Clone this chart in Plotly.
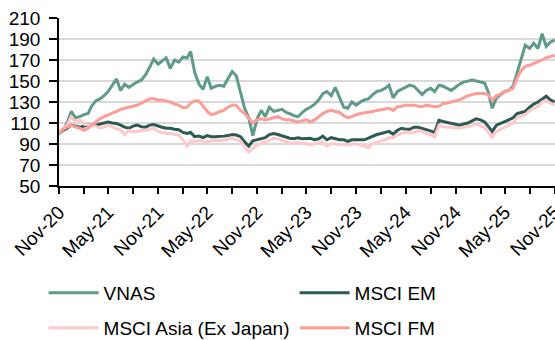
import plotly.graph_objects as go

# Half-month sample dates, Nov-2020 .. Nov-2025
dates = []
for y in range(2020, 2026):
    for mo in range(1, 13):
        if (y == 2020 and mo < 11):
            continue
        for d in (1, 16):
            if y == 2025 and (mo > 11 or (mo == 11 and d == 16)):
                continue
            dates.append(f"{y}-{mo:02d}-{d:02d}")

tick_dates = ["2020-11-01", "2021-05-01", "2021-11-01", "2022-05-01", "2022-11-01", "2023-05-01",
              "2023-11-01", "2024-05-01", "2024-11-01", "2025-05-01", "2025-11-01"]
tick_text = ["Nov-20", "May-21", "Nov-21", "May-22", "Nov-22", "May-23",
             "Nov-23", "May-24", "Nov-24", "May-25", "Nov-25"]

vnas = [100, 104, 110, 121, 115, 116, 118, 119, 126, 131, 133, 136, 140, 146, 152, 141, 147, 144, 147, 149,
        151, 156, 163, 171, 166, 169, 172, 162, 170, 168, 173, 172, 178, 158, 147, 142, 154, 143, 145, 146,
        145, 152, 159, 155, 138, 124, 115, 98, 114, 122, 116, 125, 121, 122, 123, 120, 119, 117, 116, 120,
        123, 125, 128, 132, 138, 140, 136, 144, 135, 125, 124, 130, 127, 130, 132, 133, 137, 140, 141, 143,
        146, 134, 140, 142, 144, 146, 145, 141, 137, 141, 143, 140, 146, 145, 143, 141, 144, 147, 149, 150,
        151, 150, 149, 148, 140, 124, 134, 137, 140, 141, 145, 158, 170, 184, 181, 186, 181, 195, 183, 187,
        189]

msci_em = [100, 103, 105, 108, 107, 106, 107, 108, 108, 108, 109, 110, 111, 110, 109.5, 108, 106, 105, 107, 108,
           106.5, 106, 108, 108.5, 107, 106, 105, 105, 104, 103.5, 101, 100, 101, 97, 97.5, 96, 98, 97, 97, 97,
           97.5, 98, 99, 98.5, 97, 92, 88, 93, 94, 95, 96, 99, 100, 99, 97.5, 96, 95.5, 95, 96, 95,
           95, 95.5, 94, 95, 97.5, 94, 96, 95, 94, 94, 92.5, 94, 94, 93.5, 94, 95.5, 97.5, 99, 100, 101,
           102, 99.5, 103, 105, 104, 104, 106, 106, 105, 104, 102.5, 101, 112.5, 111.5, 110.5, 109.5, 108.5, 108, 109, 110,
           112, 114, 113, 111, 107, 102, 108, 109.5, 111, 113, 115, 119, 120, 121, 125, 128, 130, 133, 135.5, 132,
           130]

msci_asia = [100, 105, 108, 116, 111, 113, 109, 108, 108, 107, 105, 106, 108, 106, 104.5, 103.5, 99, 103, 102, 102,
             103, 103, 104, 105, 102, 101, 100, 100, 99.5, 98.5, 94, 88, 93, 92.5, 93.5, 92.5, 92, 93, 93, 93.5,
             93.5, 94.5, 95.5, 94, 93, 87, 82.5, 86, 89, 91, 92, 94, 95.5, 95, 93.5, 92, 91, 90.5, 92, 90,
             90.5, 89, 90, 90.5, 92, 88, 90.5, 90, 89.5, 89, 89, 90, 90, 89, 88, 86.5, 90.5, 92, 93, 94,
             96, 96, 98.5, 100, 101.5, 100.5, 101, 103, 102, 100, 99, 97, 108, 106.5, 106, 106, 105.5, 105, 106, 106.5,
             107.5, 109.5, 107, 106, 101, 96.5, 102, 104, 106.5, 108, 110, 115, 116.5, 118, 122, 124, 125.5, 130, 131.5, 129,
             127]

msci_fm = [100, 104, 106, 108, 106, 105, 103, 105, 108, 111, 114, 116, 118, 119.5, 121, 123, 124, 125, 126, 127,
           129, 131, 133, 133, 132, 132, 131, 130, 128, 127, 124.5, 125, 129, 131, 131, 126, 121, 118, 119, 121,
           122, 125, 127, 127, 122, 119, 115, 110, 113, 114, 113, 114, 114.5, 116, 114, 113, 113, 112, 111, 112,
           113, 111, 113, 116, 119, 121, 122, 121, 120, 117, 115, 116, 118, 119, 119.5, 120, 121, 122, 122.5, 123.5,
           124, 122, 125.5, 126, 127, 127, 127, 126, 125.5, 127, 126, 125.5, 126, 128.5, 129, 130, 131, 132, 134, 136,
           137, 138, 138, 138, 137, 132, 136, 137.5, 140, 141, 143, 153, 160, 164, 165, 166.5, 168, 170, 172, 173.5,
           174.5]

series = [
    ("VNAS", vnas, "#5F9A8B", "legend"),
    ("MSCI EM", msci_em, "#2E5A54", "legend2"),
    ("MSCI Asia (Ex Japan)", msci_asia, "#FFC9CB", "legend3"),
    ("MSCI FM", msci_fm, "#FF9C98", "legend4"),
]

FONT = "Liberation Sans, Arial, sans-serif"

fig = go.Figure()
for name, vals, col, lg in series:
    fig.add_trace(go.Scatter(x=dates, y=vals, name=name, mode="lines",
                             line=dict(color=col, width=3), legend=lg))

leg_common = dict(orientation="h", xanchor="left", yanchor="middle",
                  font=dict(family=FONT, size=19, color="#000000"),
                  itemwidth=50, bgcolor="rgba(0,0,0,0)")

col1, col2 = -0.031, 0.475
row1, row2 = -0.637, -0.845

fig.update_layout(
    width=555, height=340,
    margin=dict(l=59, r=0, t=18, b=154, autoexpand=False),
    paper_bgcolor="white", plot_bgcolor="white",
    font=dict(family=FONT, size=19, color="#000000"),
    showlegend=True,
    legend=dict(x=col1, y=row1, **leg_common),
    legend2=dict(x=col2, y=row1, **leg_common),
    legend3=dict(x=col1, y=row2, **leg_common),
    legend4=dict(x=col2, y=row2, **leg_common),
    xaxis=dict(
        type="date", range=["2020-11-01", "2025-11-02 12:00"],
        tickmode="array", tickvals=tick_dates, ticktext=tick_text, tickangle=-45,
        ticklabeloverflow="allow", automargin=False,
        ticks="outside", ticklen=6, tickcolor="black", tickwidth=1.5,
        showline=True, linecolor="black", linewidth=1.5,
        showgrid=False, zeroline=False,
        minor=dict(ticks="outside", dtick="M3", tick0="2020-11-01", ticklen=6,
                   tickcolor="black", tickwidth=1.5, showgrid=False),
        tickfont=dict(family=FONT, size=19, color="black"),
    ),
    yaxis=dict(
        range=[50, 210], dtick=20, tick0=50, automargin=False,
        ticks="outside", ticklen=8, tickcolor="black", tickwidth=1.5,
        ticklabelstandoff=5,
        showline=True, linecolor="black", linewidth=1.5,
        showgrid=True, gridcolor="#D9D9D9", gridwidth=2, zeroline=False,
        tickfont=dict(family=FONT, size=19, color="black"),
    ),
)

fig.write_html("out.html")
